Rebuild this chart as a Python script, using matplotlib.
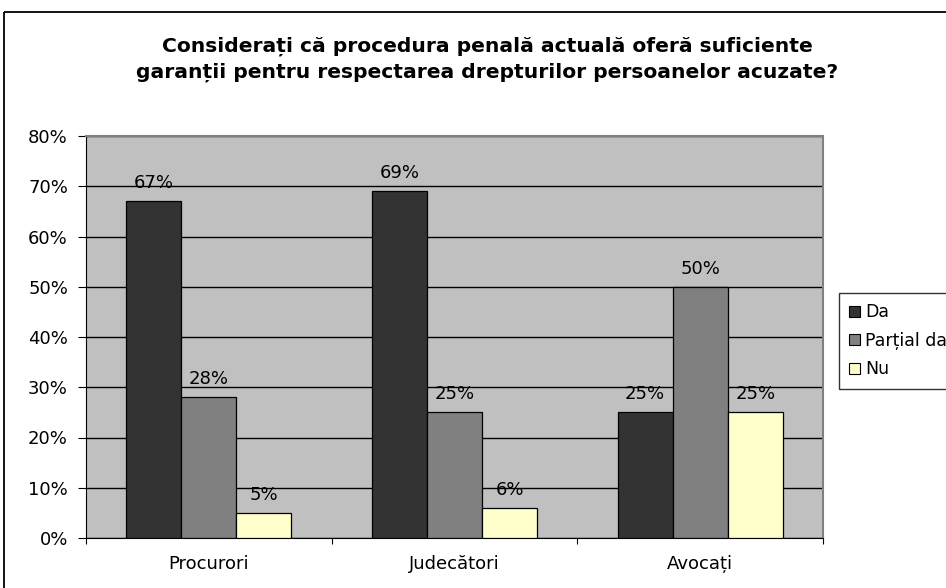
import matplotlib
matplotlib.use("Agg")
import matplotlib.pyplot as plt
import matplotlib.patches as mpatches
import numpy as np

categories = ["Procurori", "Judecători", "Avocați"]
series_names = ["Da", "Parțial da", "Nu"]
da = [67, 69, 25]
partial = [28, 25, 50]
nu = [5, 6, 25]
series = [da, partial, nu]
colors = ["#333333", "#808080", "#FFFFCC"]
yticks = [0, 10, 20, 30, 40, 50, 60, 70, 80]
title = "Considerați că procedura penală actuală oferă suficiente\ngaranții pentru respectarea drepturilor persoanelor acuzate?"

plt.rcParams['font.family'] = ['DejaVu Sans']

W, H = 946, 588
fig = plt.figure(figsize=(W / 100, H / 100), dpi=100)
fig.patch.set_facecolor("white")

# outer chart border
fig.add_artist(mpatches.Rectangle((4 / W, 1 - 12 / H), 2, -2, transform=fig.transFigure,
                                  fill=False, edgecolor="black", linewidth=1.3, clip_on=False))

ax = fig.add_axes([86 / W, 1 - 538 / H, (823 - 86) / W, (538 - 136) / H])
ax.set_facecolor("#C0C0C0")

x = np.arange(len(categories))
bw = 0.224
offsets = [-bw, 0, bw]
for vals, name, c, off in zip(series, series_names, colors, offsets):
    bars = ax.bar(x + off, vals, width=bw, color=c, edgecolor="black", linewidth=0.9,
                  label=name, zorder=3)
    for b, v in zip(bars, vals):
        ax.annotate(f"{v}%", (b.get_x() + b.get_width() / 2, v), xytext=(0, 13),
                    textcoords="offset points", ha="center", va="center",
                    fontsize=13, zorder=4)

ax.set_xlim(-0.5, 2.5)
ax.set_ylim(0, 80)
ax.set_yticks(yticks)
ax.set_yticklabels([f"{t}%" for t in yticks], fontsize=13)
ax.yaxis.grid(True, color="black", linewidth=1.0, zorder=1)
ax.set_axisbelow(True)
ax.set_xticks([-0.5, 0.5, 1.5, 2.5], minor=False)
ax.set_xticklabels([])
ax.set_xticks(x, minor=True)
ax.set_xticklabels(categories, minor=True, fontsize=13)
ax.tick_params(axis="x", which="minor", length=0, pad=12)
ax.tick_params(axis="x", which="major", length=4.5, direction="out", color="black")
ax.tick_params(axis="y", length=6, direction="out", pad=7)
for side in ["top", "right"]:
    ax.spines[side].set_color("#808080")
    ax.spines[side].set_linewidth(1.5)
ax.spines["left"].set_color("black")
ax.spines["bottom"].set_color("black")

fig.text(487 / W, 1 - 59 / H, title, ha="center", va="center",
         fontsize=14.6, fontweight="bold", linespacing=1.45)

handles = [mpatches.Patch(facecolor=c, edgecolor="black", linewidth=0.8) for c in colors]
leg = fig.legend(handles, series_names, loc="upper left", bbox_to_anchor=(839 / W, 1 - 293 / H),
                 fontsize=12.5, frameon=True, fancybox=False, edgecolor="black",
                 handlelength=0.6, handleheight=0.6, handletextpad=0.3, borderpad=0.6,
                 labelspacing=0.6, borderaxespad=0)
leg.get_frame().set_linewidth(1.0)

fig.savefig("out.png", dpi=100, facecolor="white")
